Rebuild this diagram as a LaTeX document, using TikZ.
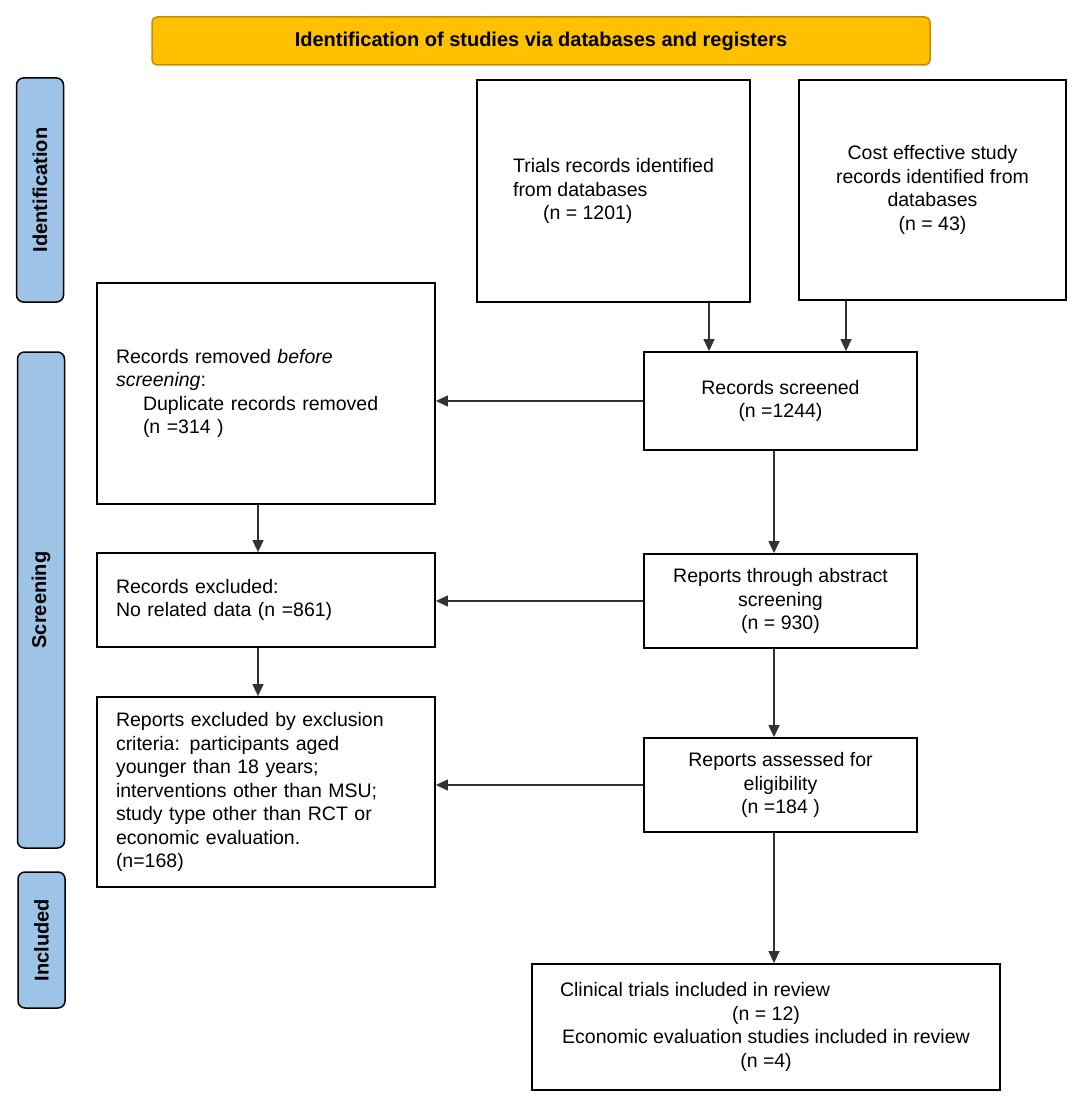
\documentclass[tikz,border=0pt]{standalone}
\usepackage{fontspec}
\setmainfont{Liberation Sans}
\usetikzlibrary{arrows.meta}
\definecolor{gold}{HTML}{FFC000}
\definecolor{golddark}{HTML}{BF9000}
\definecolor{sideblue}{HTML}{9DC3E6}
\begin{document}
\begin{tikzpicture}[x=1pt,y=-1pt,
  box/.style={draw=black, line width=1.8pt, fill=white, inner sep=0pt, font=\fontsize{19.5}{23.5}\selectfont},
  arr/.style={draw=black!80, line width=1.3pt, -{Triangle[length=12pt,width=11pt]}},
  side/.style={draw=black, line width=1.5pt, fill=sideblue, rounded corners=7pt, font=\bfseries\fontsize{20}{24}\selectfont, rotate=90, inner sep=0pt, minimum height=47pt},
  banner/.style={draw=golddark, line width=1.5pt, fill=gold, rounded corners=5pt, font=\bfseries\fontsize{20}{24}\selectfont, inner sep=0pt}
]
\useasboundingbox (0,0) rectangle (1084,1099);

% banner and side labels
\node[banner, minimum width=778pt, minimum height=48pt] (banner) at (541,41) {Identification of studies via databases and registers};
\node[side, minimum width=224pt] (ident) at (40,190) {Identification};
\node[side, minimum width=496pt] (screen) at (41,600) {Screening};
\node[side, minimum width=136pt] (incl) at (41.5,940) {Included};

% identification
\node[box, minimum width=273pt, minimum height=222pt, align=left] (trials) at (613.5,191)
  {Trials records identified\\from databases\\\hspace*{30pt}(n = 1201)};
\node[box, minimum width=267pt, minimum height=220pt, align=center] (cost) at (932.5,190)
  {Cost effective study\\records identified from\\databases\\(n = 43)};

% screening left
\node[box, minimum width=338pt, minimum height=221pt, text width=300pt, align=left] (removed) at (266,393.5)
  {Records removed \textit{before}\\\textit{screening}:\\\hspace*{27pt}Duplicate records removed\\\hspace*{27pt}(n =314 )};
\node[box, minimum width=338pt, minimum height=94pt, text width=300pt, align=left] (recexcl) at (266,600)
  {Records excluded:\\No related data (n =861)};
\node[box, minimum width=338pt, minimum height=190pt, text width=300pt, align=left] (repexcl) at (266,792)
  {Reports excluded by exclusion\\criteria: participants aged\\younger than 18 years;\\interventions other than MSU;\\study type other than RCT or\\economic evaluation.\\(n=168)};

% screening right
\node[box, minimum width=273pt, minimum height=98pt, align=center] (screened) at (780.5,401)
  {Records screened\\(n =1244)};
\node[box, minimum width=273pt, minimum height=94pt, align=center] (abstract) at (780.5,601)
  {Reports through abstract\\screening\\(n = 930)};
\node[box, minimum width=273pt, minimum height=94pt, align=center] (assessed) at (780.5,785)
  {Reports assessed for\\eligibility\\(n =184 )};

% included
\node[box, minimum width=468pt, minimum height=126pt, align=center] (clinical) at (766,1027)
  {Clinical trials included in review\hspace*{142pt}\\(n = 12)\\Economic evaluation studies included in review\\(n =4)};

% x positions of vertical connectors
\coordinate (xa) at (709,0);
\coordinate (xb) at (846,0);
\coordinate (xl) at (258,0);
\coordinate (xr) at (774,0);

\draw[arr] (trials.south -| xa) -- (screened.north -| xa);
\draw[arr] (cost.south -| xb) -- (screened.north -| xb);
\draw[arr] (screened.west) -- (removed.east |- screened.west);
\draw[arr] (removed.south -| xl) -- (recexcl.north -| xl);
\draw[arr] (screened.south -| xr) -- (abstract.north -| xr);
\draw[arr] (abstract.west) -- (recexcl.east |- abstract.west);
\draw[arr] (recexcl.south -| xl) -- (repexcl.north -| xl);
\draw[arr] (abstract.south -| xr) -- (assessed.north -| xr);
\draw[arr] (assessed.west) -- (repexcl.east |- assessed.west);
\draw[arr] (assessed.south -| xr) -- (clinical.north -| xr);
\end{tikzpicture}
\end{document}
